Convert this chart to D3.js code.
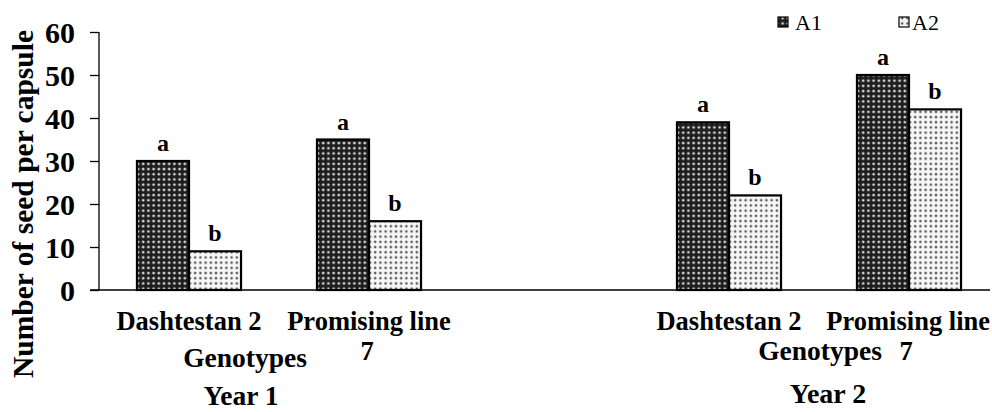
<!DOCTYPE html>
<html>
<head>
<meta charset="utf-8">
<script src="https://cdn.jsdelivr.net/npm/d3@7"></script>
<style>
  html, body { margin: 0; padding: 0; background: #fff; }
  svg { display: block; }
</style>
</head>
<body>
<div id="chart"></div>
<script>
// data
const slots = ["Y1-D", "Y1-P", "gap", "Y2-D", "Y2-P"];
const genotypes = ["Dashtestan 2", "Promising line 7", "Dashtestan 2", "Promising line 7"];
const slotKeys = ["Y1-D", "Y1-P", "Y2-D", "Y2-P"];
const seriesNames = ["A1", "A2"];
const a1Values = [30, 35, 39, 50];
const a2Values = [9, 16, 22, 42];
const a1Letters = ["a", "a", "a", "a"];
const a2Letters = ["b", "b", "b", "b"];
const yTicks = [0, 10, 20, 30, 40, 50, 60];

const W = 992, H = 412;
const margin = { top: 32, left: 99, bottom: 122 };
const y0 = H - margin.bottom; // 290
const serif = "Liberation Serif";

const svg = d3.select("#chart").append("svg")
  .attr("width", W).attr("height", H)
  .attr("font-family", serif);

// fill patterns
const defs = svg.append("defs");
const p1 = defs.append("pattern").attr("id", "pA1")
  .attr("patternUnits", "userSpaceOnUse").attr("width", 5.2).attr("height", 5.2);
p1.append("rect").attr("width", 5.2).attr("height", 5.2).attr("fill", "#1e1e1e");
p1.append("circle").attr("cx", 2.6).attr("cy", 2.6).attr("r", 1.4).attr("fill", "#d8d8d8");
const p2 = defs.append("pattern").attr("id", "pA2")
  .attr("patternUnits", "userSpaceOnUse").attr("width", 5.2).attr("height", 5.2);
p2.append("rect").attr("width", 5.2).attr("height", 5.2).attr("fill", "#f6f6f6");
p2.append("circle").attr("cx", 2.6).attr("cy", 2.6).attr("r", 1.3).attr("fill", "#555");

const x = d3.scaleBand().domain(slots).range([margin.left, margin.left + 900]).paddingInner(0).paddingOuter(0);
const xs = d3.scaleBand().domain(seriesNames).range([0, x.bandwidth()]).paddingInner(0).paddingOuter(0.73);
const y = d3.scaleLinear().domain([0, 60]).range([y0, margin.top]);

// y axis
const yAxis = svg.append("g")
  .attr("transform", `translate(${margin.left},0)`)
  .call(d3.axisLeft(y).tickValues(yTicks).tickSize(9).tickPadding(15))
  .attr("font-family", serif);
yAxis.select(".domain").attr("d", `M0,${y(60)}V${y0}`).attr("stroke", "#000").attr("stroke-width", 1.3);
yAxis.selectAll(".tick line").attr("stroke", "#000").attr("stroke-width", 1.3);
yAxis.selectAll(".tick text")
  .attr("font-family", serif)
  .attr("font-size", 30).attr("font-weight", "bold").attr("fill", "#000")
  .attr("dy", "0.34em");

// bars
const rows = slotKeys.map((k, i) => ({ key: k, vals: [a1Values[i], a2Values[i]], lets: [a1Letters[i], a2Letters[i]] }));
const groups = svg.append("g").selectAll("g").data(rows).join("g")
  .attr("transform", d => `translate(${x(d.key)},0)`);

groups.selectAll("rect")
  .data(d => d.vals.map((v, j) => ({ s: seriesNames[j], v })))
  .join("rect")
  .attr("x", d => xs(d.s))
  .attr("y", d => y(d.v))
  .attr("width", xs.bandwidth())
  .attr("height", d => y0 - y(d.v))
  .attr("fill", d => d.s === "A1" ? "url(#pA1)" : "url(#pA2)")
  .attr("stroke", "#000").attr("stroke-width", 2.2);

groups.selectAll("text.sig")
  .data(d => d.vals.map((v, j) => ({ s: seriesNames[j], v, l: d.lets[j] })))
  .join("text").attr("class", "sig")
  .attr("x", d => xs(d.s) + xs.bandwidth() / 2)
  .attr("y", d => y(d.v) - 10)
  .attr("text-anchor", "middle")
  .attr("font-family", serif)
  .attr("font-size", 24).attr("font-weight", "bold")
  .text(d => d.l);

// x axis line
svg.append("line")
  .attr("x1", margin.left - 9).attr("x2", 990)
  .attr("y1", y0).attr("y2", y0)
  .attr("stroke", "#000").attr("stroke-width", 1.3);

// category labels
const catG = svg.append("g").attr("font-family", serif).attr("font-weight", "bold")
  .attr("font-size", 26.5).attr("text-anchor", "middle");
slotKeys.forEach((k, i) => {
  const cx = x(k) + x.bandwidth() / 2;
  const name = genotypes[i];
  if (name.startsWith("Promising")) {
    const t = catG.append("text").attr("y", 330).text("Promising line");
    const w = t.node().getComputedTextLength();
    const px = Math.min(cx, W - 2 - w / 2);
    t.attr("x", px);
    catG.append("text").attr("x", px - 2).attr("y", 360).text("7");
  } else {
    catG.append("text").attr("x", cx).attr("y", 330).text(name);
  }
});

// genotypes / year labels
const subTitles = [
  { t: "Genotypes", x: 245, y: 367, s: 27.5 },
  { t: "Genotypes", x: 820, y: 360, s: 27.5 },
  { t: "Year 1", x: 241, y: 405, s: 27.5 },
  { t: "Year 2", x: 828, y: 403, s: 28 }
];
svg.append("g").selectAll("text").data(subTitles).join("text")
  .attr("x", d => d.x).attr("y", d => d.y)
  .attr("text-anchor", "middle").attr("font-weight", "bold")
  .attr("font-family", serif)
  .attr("font-size", d => d.s)
  .text(d => d.t);

// y title
svg.append("text")
  .attr("transform", "translate(33,204) rotate(-90)")
  .attr("text-anchor", "middle")
  .attr("font-family", serif)
  .attr("font-weight", "bold").attr("font-size", 29.5)
  .text("Number of seed per capsule");

// legend
const legend = svg.append("g");
const legendItems = [
  { s: "A1", x: 778, tx: 795 },
  { s: "A2", x: 899, tx: 912 }
];
legend.selectAll("rect").data(legendItems).join("rect")
  .attr("x", d => d.x).attr("y", 17).attr("width", 10).attr("height", 10)
  .attr("fill", d => d.s === "A1" ? "url(#pA1)" : "url(#pA2)")
  .attr("stroke", "#000").attr("stroke-width", 1.2);
legend.selectAll("text").data(legendItems).join("text")
  .attr("x", d => d.tx).attr("y", 30)
  .attr("font-family", serif)
  .attr("font-size", 22)
  .text(d => d.s);
</script>
</body>
</html>
